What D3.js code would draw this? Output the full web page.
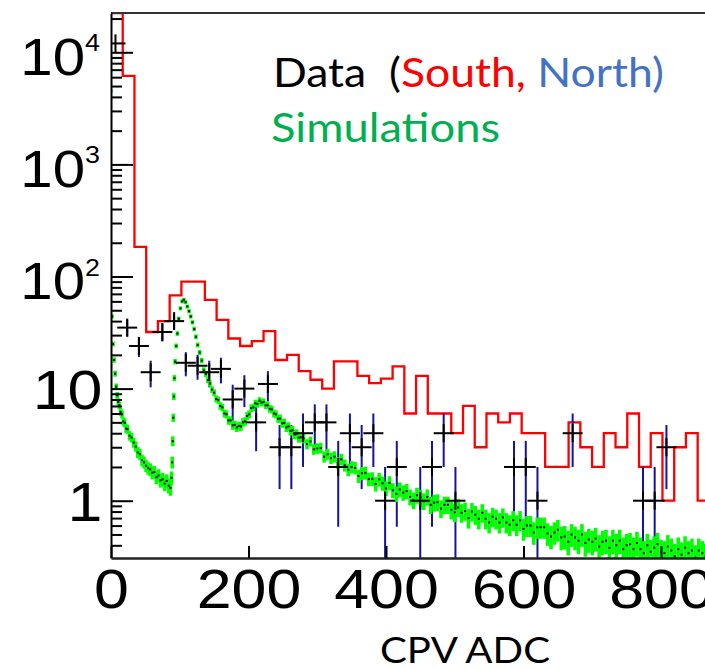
<!DOCTYPE html>
<meta charset="utf-8">
<style>
body { margin: 0; background: #fff; }
svg { display: block; }
.legend { white-space: pre; }
</style>
<body>
<svg width="705" height="669"></svg>

<script src="https://d3js.org/d3.v7.min.js"></script>
<script>

// South data: one count per ADC bin of width 1024/60, first bin starts at 0
var binWidth = 1024 / 60;
var southCounts = [25000, 6150, 184, 32, 40, 68, 90, 90, 62, 41,
                   28, 24, 26.5, 32.5, 18, 20, 14.3, 12, 10, 17.5,
                   17.5, 13, 11.2, 12.3, 15.8, 6, 13, 6, 6, 4,
                   7, 3, 6, 5, 6, 4, 4, 2, 2, 5,
                   3, 2, 4, 3, 6, 2, 4, 1, 3, 4,
                   1];

// North data points (ADC centre, counts)
var northADC = [6.5, 23.6, 40.6, 57.7, 74.7, 91.8, 108.8, 125.9, 142.9, 159.9,
                177, 194, 211.1, 228.2, 245.2, 262.3, 279.3, 296.4, 313.4, 330.5,
                347.5, 364.6, 381.6, 398.7, 415.7, 449.8, 466.9, 483.9, 501, 586.2,
                603.3, 620.3, 671.5, 773.8, 790.8, 807.9];
var northCounts = [12000, 35, 24, 14, 32, 40, 17, 16, 14, 15,
                   8, 10, 5, 11, 3, 3, 4, 5, 5, 2,
                   4, 3, 4, 1, 2, 1, 2, 4, 1, 2,
                   2, 1, 4, 1, 1, 3];

// Simulations
var simADC = [0, 1.5, 3, 4.5, 6, 7.5, 9, 10.5, 12, 14, 16, 18, 20, 22, 24,
  27, 30, 33, 36, 39, 42, 45, 48, 51, 54, 57, 60, 63, 66, 69, 72, 75, 78, 81, 84, 86.5,
  88, 89, 89.8, 90.6, 91.4, 92.2, 93.2, 94.8, 96.5, 98.5, 101, 103.5, 106, 108.5,
  111, 113.5, 116, 118.5, 121, 123.5, 126,
  129, 132, 135, 138, 141, 144, 147, 150, 153, 156, 159, 162, 165, 168, 171, 174, 177,
  180, 183, 186, 189, 192, 195, 198, 201, 204, 207, 210, 213, 216, 219, 222, 225, 228,
  231, 234, 237, 240, 243, 246, 249, 252, 255, 258, 261, 264, 267, 270, 273, 276,
  280, 285, 290, 295, 300, 305, 310, 315, 320, 325,
  330, 335, 340, 345, 350, 355, 360, 365, 370, 375,
  380, 385, 390, 395, 400, 405, 410, 415, 420, 425,
  430, 435, 440, 445, 450, 455, 460, 465, 470, 475,
  480, 485, 490, 495, 500, 505, 510, 515, 520, 525,
  530, 535, 540, 545, 550, 555, 560, 565, 570, 575,
  580, 585, 590, 595, 600, 605, 610, 615, 620, 625,
  630, 635, 640, 645, 650, 655, 660, 665, 670, 675,
  680, 685, 690, 695, 700, 705, 710, 715, 720, 725,
  730, 735, 740, 745, 750, 755, 760, 765, 770, 775,
  780, 785, 790, 795, 800, 805, 810, 815, 820, 825,
  830, 835, 840, 845, 850, 855, 860, 865, 870, 875];
var simValues = [4500, 44, 25, 18, 13.6, 10.4, 8.7, 7.6, 7.1, 6.2, 5.9, 5.1, 4.95, 4.4, 4.35,
  3.8, 3.65, 3.3, 3.05, 2.7, 2.6, 2.3, 2.2, 2.05, 1.95, 1.9, 1.78, 1.8, 1.62, 1.68, 1.52, 1.55, 1.42, 1.5, 1.36, 1.3,
  1.6, 2.2, 3.4, 5.5, 8.5, 12.4, 17.4, 24, 31, 42, 52, 60, 62, 59,
  54, 49, 44, 39, 34, 29, 24.5,
  21, 17.8, 14.6, 13.5, 11.9, 11.1, 9.8, 9.2, 8.1, 7.9, 7.0, 6.8, 6.0, 5.9, 5.2, 5.2, 4.7,
  4.75, 4.5, 4.65, 4.6, 5.0, 5.1, 5.7, 5.9, 6.7, 6.8, 7.4, 7.3, 7.8, 7.5, 7.6, 7.1, 7.1,
  6.6, 6.5, 6.0, 5.9, 5.4, 5.4, 4.9, 4.95, 4.5, 4.6, 4.2, 4.25, 3.9, 3.95, 3.65, 3.68,
  3.59, 3.20, 3.38, 2.87, 2.93, 2.95, 2.47, 2.60, 2.40, 2.47,
  2.17, 2.34, 2.07, 1.89, 2.00, 1.96, 1.66, 1.76, 1.77, 1.56,
  1.57, 1.41, 1.55, 1.43, 1.29, 1.44, 1.24, 1.15, 1.26, 1.18,
  1.22, 1.08, 1.01, 1.12, 1.07, 0.99, 1.08, 0.92, 0.96, 0.97,
  0.85, 0.92, 0.92, 0.83, 0.79, 0.87, 0.78, 0.81, 0.70, 0.80,
  0.75, 0.69, 0.78, 0.69, 0.64, 0.72, 0.69, 0.64, 0.71, 0.64,
  0.61, 0.67, 0.61, 0.67, 0.56, 0.60, 0.60, 0.52, 0.58, 0.58,
  0.58, 0.51, 0.48, 0.52, 0.55, 0.47, 0.48, 0.43, 0.50, 0.47,
  0.44, 0.50, 0.42, 0.45, 0.43, 0.46, 0.39, 0.43, 0.44, 0.38,
  0.44, 0.40, 0.44, 0.37, 0.40, 0.41, 0.37, 0.42, 0.37, 0.34,
  0.40, 0.35, 0.38, 0.41, 0.35, 0.34, 0.39, 0.36, 0.32, 0.37,
  0.33, 0.38, 0.34, 0.36, 0.31, 0.36, 0.34, 0.32, 0.37, 0.33];

var xTicks = [0, 200, 400, 600, 800];
var xTickLabels = ["0", "200", "400", "600", "800"];
var yMajor = [1, 10, 100, 1000, 10000];
var yLabelBase = ["1", "10", "10", "10", "10"];
var yLabelExp = ["", "", "2", "3", "4"];
var yMinor = [0.4, 0.5, 0.6, 0.7, 0.8, 0.9, 2, 3, 4, 5, 6, 7, 8, 9,
              20, 30, 40, 50, 60, 70, 80, 90, 200, 300, 400, 500, 600, 700, 800, 900,
              2000, 3000, 4000, 5000, 6000, 7000, 8000, 9000, 20000];

var svg = d3.select("svg"),
    plotLeft = 111, plotTop = 13, plotBottom = 558,
    helv = "'Liberation Sans', Arial, sans-serif",
    sx = 1.12;

var x = d3.scaleLinear().domain([0, 880]).range([plotLeft, plotLeft + 880 * 0.6875]);
var y = d3.scaleLog().domain([0.3083, 22415]).range([plotBottom, plotTop]).clamp(true);

svg.append("clipPath").attr("id", "clip")
  .append("rect")
    .attr("x", plotLeft).attr("y", plotTop - 1)
    .attr("width", x.range()[1] - plotLeft).attr("height", plotBottom - plotTop + 1);

var plot = svg.append("g").attr("clip-path", "url(#clip)");

// South histogram
var south = southCounts.map(function(v, k) { return {e: k * binWidth, v: v}; });
south.push({e: southCounts.length * binWidth, v: southCounts[southCounts.length - 1]});

plot.append("path")
    .datum(south)
    .attr("fill", "none")
    .attr("stroke", "#ff0000")
    .attr("stroke-width", 2.3)
    .attr("d", d3.line().curve(d3.curveStepAfter)
      .x(function(d) { return x(d.e); })
      .y(function(d) { return y(d.v); }));

// North error bars
var north = northADC.map(function(a, i) { return {a: a, v: northCounts[i], e: Math.sqrt(northCounts[i])}; });

plot.selectAll(".nerr").data(north).enter().append("line")
    .attr("class", "nerr")
    .attr("x1", function(d) { return x(d.a); })
    .attr("x2", function(d) { return x(d.a); })
    .attr("y1", function(d) { return y(d.v + d.e); })
    .attr("y2", function(d) { return y(Math.max(d.v - d.e, 1e-3)); })
    .attr("stroke", "#14149e")
    .attr("stroke-width", 2);

// Simulation: green error bars and black points
var sim = simADC.map(function(a, i) {
  var v = simValues[i], r = 1 / Math.sqrt(v * 45);
  return {a: a, v: v, lo: v * (1 - r), hi: v * (1 + r)};
});

plot.selectAll(".serr").data(sim).enter().append("line")
    .attr("class", "serr")
    .attr("x1", function(d) { return x(d.a); })
    .attr("x2", function(d) { return x(d.a); })
    .attr("y1", function(d) { return y(d.hi) - 1; })
    .attr("y2", function(d) { return y(d.lo) + 1; })
    .attr("stroke", "#00ff00")
    .attr("stroke-width", 3.6);

plot.selectAll(".sdot").data(sim).enter().append("rect")
    .attr("class", "sdot")
    .attr("x", function(d) { return x(d.a) - 1; })
    .attr("y", function(d) { return y(d.v) - 1; })
    .attr("width", 2)
    .attr("height", 2)
    .attr("fill", "#000");

// North "+" markers
var marks = plot.selectAll(".nmark").data(north).enter().append("g")
    .attr("class", "nmark")
    .attr("transform", function(d) { return "translate(" + x(d.a) + "," + y(d.v) + ")"; });
marks.append("line").attr("x1", -10).attr("x2", 10).attr("stroke", "#000").attr("stroke-width", 2);
marks.append("line").attr("y1", -9).attr("y2", 9).attr("stroke", "#000").attr("stroke-width", 2);

// frame top
svg.append("line")
    .attr("x1", plotLeft).attr("x2", x.range()[1])
    .attr("y1", plotTop).attr("y2", plotTop)
    .attr("stroke", "#333").attr("stroke-width", 2);

// y axis
var gyMinor = svg.append("g")
    .attr("transform", "translate(" + plotLeft + ",0)")
    .call(d3.axisRight(y).tickValues(yMinor).tickSize(11).tickSizeOuter(0).tickFormat(""));
gyMinor.select(".domain").remove();
gyMinor.selectAll(".tick line").attr("stroke", "#000").attr("stroke-width", 2);

var gy = svg.append("g")
    .attr("transform", "translate(" + plotLeft + ",0)")
    .call(d3.axisRight(y).tickValues(yMajor).tickSize(22).tickSizeOuter(0).tickFormat(""));
gy.select(".domain").attr("stroke", "#000").attr("stroke-width", 2);
gy.selectAll(".tick line").attr("stroke", "#000").attr("stroke-width", 2);
gy.selectAll(".tick text").remove();

gy.selectAll(".tick").append("text")
    .attr("fill", "#000")
    .attr("text-anchor", "end")
    .attr("font-family", helv)
    .each(function(d, i) {
      var t = d3.select(this);
      if (yLabelExp[i] === "") {
        t.attr("transform", "translate(-8.5,20) scale(" + sx + ",1)")
          .attr("font-size", 56)
          .text(yLabelBase[i]);
      } else {
        t.attr("transform", "translate(-11,22) scale(" + sx + ",1)");
        t.append("tspan").attr("font-size", 52).text(yLabelBase[i]);
        t.append("tspan").attr("font-size", 24).attr("dy", -23.5).text(yLabelExp[i]);
      }
    });

// x axis
var gx = svg.append("g")
    .attr("transform", "translate(0," + plotBottom + ")")
    .call(d3.axisBottom(x).tickValues(xTicks).tickSize(-12).tickSizeOuter(0).tickPadding(10)
      .tickFormat(function(d, i) { return xTickLabels[i]; }));
gx.select(".domain").attr("stroke", "#222").attr("stroke-width", 2.5);
gx.selectAll(".tick line").attr("stroke", "#000").attr("stroke-width", 2);
gx.selectAll(".tick text")
    .attr("fill", "#000")
    .attr("font-size", 56)
    .attr("font-family", helv)
    .attr("transform", "scale(" + sx + ",1)");

// legend and axis title
var leg1 = svg.append("text")
    .attr("class", "legend")
    .attr("x", 273).attr("y", 87)
    .attr("font-family", "Lato, sans-serif")
    .attr("font-size", 41)
    .attr("textLength", 391)
    .attr("lengthAdjust", "spacingAndGlyphs");
leg1.append("tspan").attr("fill", "#000").text("Data  (");
leg1.append("tspan").attr("fill", "#ff0000").text("South,");
leg1.append("tspan").attr("fill", "#4472c4").text(" North)");

svg.append("text")
    .attr("x", 271).attr("y", 142)
    .attr("font-family", "Lato, sans-serif")
    .attr("font-size", 40)
    .attr("fill", "#00b050")
    .attr("textLength", 229)
    .attr("lengthAdjust", "spacingAndGlyphs")
    .text("Simulations");

svg.append("text")
    .attr("x", 380).attr("y", 663)
    .attr("font-family", "Lato, sans-serif")
    .attr("font-size", 37)
    .attr("fill", "#000")
    .attr("textLength", 170)
    .attr("lengthAdjust", "spacingAndGlyphs")
    .text("CPV ADC");

</script>
</body>
